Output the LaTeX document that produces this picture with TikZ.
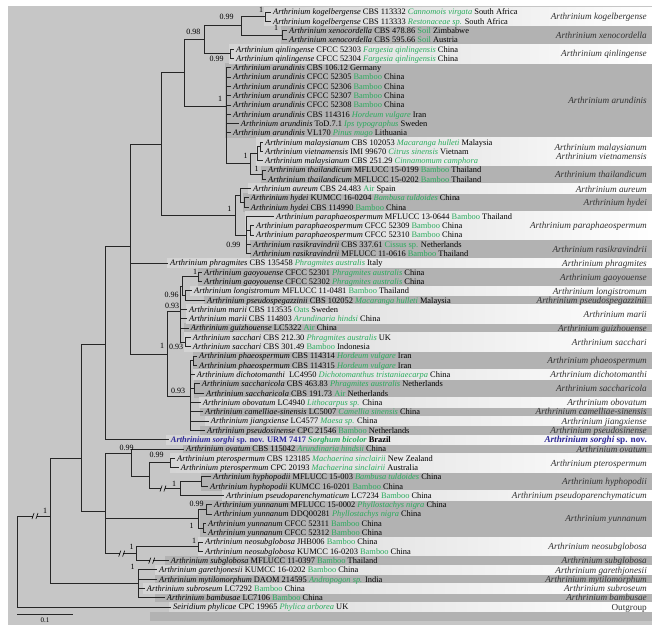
\documentclass[tikz,border=0pt]{standalone}
\usepackage{fontspec}
\setmainfont{Liberation Serif}
\definecolor{panel}{RGB}{198,198,198}
\definecolor{dband}{RGB}{178,178,178}
\definecolor{lband}{RGB}{212,212,212}
\definecolor{hostg}{RGB}{40,170,92}
\definecolor{sorg}{RGB}{45,40,150}
\definecolor{cladec}{RGB}{50,50,50}
\newcommand\spn[1]{\textit{Arthrinium #1}}
\newcommand\hostit[1]{\textcolor{hostg}{\textit{#1}}}
\newcommand\hostrm[1]{\textcolor{hostg}{#1}}
\newcommand\brk[2]{\fill[panel] (#1-1.6,#2-1.3) rectangle (#1+1.6,#2+1.3);
  \draw[line width=0.6pt] (#1-3,#2+3) -- (#1-0.9,#2-3) (#1+0.9,#2+3) -- (#1+3,#2-3);}
\begin{document}
\begin{tikzpicture}[x=1pt,y=-1pt,
 br/.style={line width=1pt, black!85},
 leaf/.style={anchor=west, xshift=-2pt, inner xsep=2pt, inner ysep=0pt, text height=5.6pt, text depth=0pt, font=\fontsize{8.4}{9}\selectfont},
 sup/.style={inner sep=0pt, text height=5.3pt, text depth=0pt, font=\fontsize{8}{9}\selectfont},
 clade/.style={anchor=east, inner sep=0pt, text height=6.2pt, text depth=0pt, font=\fontsize{9.2}{10}\selectfont, text=cladec}]
\useasboundingbox (0,0) rectangle (654,629);
\fill[white] (0,0) rectangle (654,629);
\fill[panel] (8,6) rectangle (652,625);
% dark bands
\foreach \xa/\a/\b in {281/3/4, 225/7/14, 261/18/19, 243/21/22, 250/26/27, 198/29/30, 204/32/32, 184/35/35, 193/38/39, 194/41/42, 200/44/44, 200/46/46, 183/48/48, 201/51/52, 200/54/57, 165/60/60, 155/62/62, 155/64/64, 150/66/66} {
  \pgfmathsetmacro\yt{7.35+(\a-1)*9.297}
  \pgfmathsetmacro\yb{16.65+(\b-1)*9.297}
  \fill[dband] (\xa,\yt) rectangle (652,\yb);
}
% light bands
\foreach \xa/\a/\b in {264/1/2, 229/5/6, 256/15/17, 248/20/20, 245/23/25, 167/28/28, 190/31/31, 186/33/34, 184/36/37, 193/40/40, 199/43/43, 205/45/45, 166/47/47, 170/49/50, 222/53/53, 198/58/59, 155/61/61, 143/63/63, 169/65/65} {
  \pgfmathsetmacro\yt{7.35+(\a-1)*9.297}
  \pgfmathsetmacro\yb{16.65+(\b-1)*9.297}
  \shade[left color=lband, right color=white] (\xa,\yt) rectangle (652,\yb);
}
% leaves
\node[leaf] (L1) at (273,12.0) {\spn{kogelbergense} CBS 113332 \hostit{Cannomois virgata} South Africa};
\node[leaf] (L2) at (273,21.3) {\spn{kogelbergense} CBS 113333 \hostit{Restonaceae sp.} South Africa};
\node[leaf] (L3) at (289,30.6) {\spn{xenocordella} CBS 478.86 \hostrm{Soil} Zimbabwe};
\node[leaf] (L4) at (289,39.9) {\spn{xenocordella} CBS 595.66 \hostrm{Soil} Austria};
\node[leaf] (L5) at (236,49.2) {\spn{qinlingense} CFCC 52303 \hostit{Fargesia qinlingensis} China};
\node[leaf] (L6) at (236,58.5) {\spn{qinlingense} CFCC 52304 \hostit{Fargesia qinlingensis} China};
\node[leaf] (L7) at (233,67.8) {\spn{arundinis} CBS 106.12 Germany};
\node[leaf] (L8) at (233,77.1) {\spn{arundinis} CFCC 52305 \hostrm{Bamboo} China};
\node[leaf] (L9) at (233,86.4) {\spn{arundinis} CFCC 52306 \hostrm{Bamboo} China};
\node[leaf] (L10) at (233,95.7) {\spn{arundinis} CFCC 52307 \hostrm{Bamboo} China};
\node[leaf] (L11) at (233,105.0) {\spn{arundinis} CFCC 52308 \hostrm{Bamboo} China};
\node[leaf] (L12) at (233,114.3) {\spn{arundinis} CBS 114316 \hostit{Hordeum vulgare} Iran};
\node[leaf] (L13) at (240.7,123.6) {\spn{arundinis} ToD.7.1 \hostit{Ips typographus} Sweden};
\node[leaf] (L14) at (233,132.9) {\spn{arundinis} VL170 \hostit{Pinus mugo} Lithuania};
\node[leaf] (L15) at (265,142.2) {\spn{malaysianum} CBS 102053 \hostit{Macaranga hulleti} Malaysia};
\node[leaf] (L16) at (265,151.5) {\spn{vietnamensis} IMI 99670 \hostit{Citrus sinensis} Vietnam};
\node[leaf] (L17) at (265,160.8) {\spn{malaysianum} CBS 251.29 \hostit{Cinnamomum camphora}};
\node[leaf] (L18) at (268,170.1) {\spn{thailandicum} MFLUCC 15-0199 \hostrm{Bamboo} Thailand};
\node[leaf] (L19) at (268,179.3) {\spn{thailandicum} MFLUCC 15-0202 \hostrm{Bamboo} Thailand};
\node[leaf] (L20) at (253,188.6) {\spn{aureum} CBS 24.483 \hostrm{Air} Spain};
\node[leaf] (L21) at (250.7,197.9) {\spn{hydei} KUMCC 16-0204 \hostit{Bambusa tuldoides} China};
\node[leaf] (L22) at (250.7,207.2) {\spn{hydei} CBS 114990 \hostrm{Bamboo} China};
\node[leaf] (L23) at (276,216.5) {\spn{paraphaeospermum} MFLUCC 13-0644 \hostrm{Bamboo} Thailand};
\node[leaf] (L24) at (256,225.8) {\spn{paraphaeospermum} CFCC 52309 \hostrm{Bamboo} China};
\node[leaf] (L25) at (256,235.1) {\spn{paraphaeospermum} CFCC 52310 \hostrm{Bamboo} China};
\node[leaf] (L26) at (253,244.4) {\spn{rasikravindrii} CBS 337.61 \hostrm{Cissus sp.} Netherlands};
\node[leaf] (L27) at (253,253.7) {\spn{rasikravindrii} MFLUCC 11-0616 \hostrm{Bamboo} Thailand};
\node[leaf] (L28) at (170,263.0) {\spn{phragmites} CBS 135458 \hostit{Phragmites australis} Italy};
\node[leaf] (L29) at (204,272.3) {\spn{gaoyouense} CFCC 52301 \hostit{Phragmites australis} China};
\node[leaf] (L30) at (204,281.6) {\spn{gaoyouense} CFCC 52302 \hostit{Phragmites australis} China};
\node[leaf] (L31) at (194,290.9) {\spn{longistromum} MFLUCC 11-0481 \hostrm{Bamboo} Thailand};
\node[leaf] (L32) at (207,300.2) {\spn{pseudospegazzinii} CBS 102052 \hostit{Macaranga hulleti} Malaysia};
\node[leaf] (L33) at (189,309.5) {\spn{marii} CBS 113535 \hostrm{Oats} Sweden};
\node[leaf] (L34) at (189,318.8) {\spn{marii} CBS 114803 \hostit{Arundinaria hindsi} China};
\node[leaf] (L35) at (190.7,328.1) {\spn{guizhouense} LC5322 \hostrm{Air} China};
\node[leaf] (L36) at (192.7,337.4) {\spn{sacchari} CBS 212.30 \hostit{Phragmites australis} UK};
\node[leaf] (L37) at (192.7,346.7) {\spn{sacchari} CBS 301.49 \hostrm{Bamboo} Indonesia};
\node[leaf] (L38) at (199,356.0) {\spn{phaeospermum} CBS 114314 \hostit{Hordeum vulgare} Iran};
\node[leaf] (L39) at (199,365.3) {\spn{phaeospermum} CBS 114315 \hostit{Hordeum vulgare} Iran};
\node[leaf] (L40) at (196.7,374.6) {\spn{dichotomanthi}\ \ LC4950 \hostit{Dichotomanthus tristaniaecarpa} China};
\node[leaf] (L41) at (201.7,383.9) {\spn{saccharicola} CBS 463.83 \hostit{Phragmites australis} Netherlands};
\node[leaf] (L42) at (206,393.2) {\spn{saccharicola} CBS 191.73 \hostrm{Air} Netherlands};
\node[leaf] (L43) at (202.7,402.5) {\spn{obovatum} LC4940 \hostit{Lithocarpus sp.} China};
\node[leaf] (L44) at (205,411.8) {\spn{camelliae-sinensis} LC5007 \hostit{Camellia sinensis} China};
\node[leaf] (L45) at (210.7,421.1) {\spn{jiangxiense} LC4577 \hostit{Maesa sp.} China};
\node[leaf] (L46) at (207,430.4) {\spn{pseudosinense} CPC 21546 \hostrm{Bamboo} Netherlands};
\node[leaf] (L47) at (170.7,439.7) {\textcolor{sorg}{\textbf{\textit{Arthrinium sorghi}} \textbf{sp. nov. URM 7417}} \textcolor{hostg}{\textbf{\textit{Sorghum bicolor}}} \textbf{Brazil}};
\node[leaf] (L48) at (186,449.0) {\spn{ovatum} CBS 115042 \hostit{Arundinaria hindsii} China};
\node[leaf] (L49) at (177,458.3) {\spn{pterospermum} CBS 123185 \hostit{Machaerina sinclairii} New Zealand};
\node[leaf] (L50) at (180.7,467.6) {\spn{pterospermum} CPC 20193 \hostit{Machaerina sinclairii} Australia};
\node[leaf] (L51) at (213,476.9) {\spn{hyphopodii} MFLUCC 15-003 \hostit{Bambusa tuldoides} China};
\node[leaf] (L52) at (210,486.2) {\spn{hyphopodii} KUMCC 16-0201 \hostrm{Bamboo} China};
\node[leaf] (L53) at (226,495.5) {\spn{pseudoparenchymaticum} LC7234 \hostrm{Bamboo} China};
\node[leaf] (L54) at (214,504.8) {\spn{yunnanum} MFLUCC 15-0002 \hostit{Phyllostachys nigra} China};
\node[leaf] (L55) at (214,514.1) {\spn{yunnanum} DDQ00281 \hostit{Phyllostachys nigra} China};
\node[leaf] (L56) at (208,523.4) {\spn{yunnanum} CFCC 52311 \hostrm{Bamboo} China};
\node[leaf] (L57) at (208,532.7) {\spn{yunnanum} CFCC 52312 \hostrm{Bamboo} China};
\node[leaf] (L58) at (205,542.0) {\spn{neosubglobosa} JHB006 \hostrm{Bamboo} China};
\node[leaf] (L59) at (205,551.3) {\spn{neosubglobosa} KUMCC 16-0203 \hostrm{Bamboo} China};
\node[leaf] (L60) at (170.7,560.6) {\spn{subglobosa} MFLUCC 11-0397 \hostrm{Bamboo} Thailand};
\node[leaf] (L61) at (159,569.9) {\spn{garethjonesii} KUMCC 16-0202 \hostrm{Bamboo} China};
\node[leaf] (L62) at (159,579.2) {\spn{mytilomorphum} DAOM 214595 \hostit{Andropogon sp.} India};
\node[leaf] (L63) at (146.7,588.5) {\spn{subroseum} LC7292 \hostrm{Bamboo} China};
\node[leaf] (L64) at (166.7,597.8) {\spn{bambusae} LC7106 \hostrm{Bamboo} China};
\node[leaf] (L65) at (173,607.1) {\textit{Seiridium phylicae} CPC 19965 \hostit{Phylica arborea} UK};
% internal nodes
\coordinate (R) at (17.3,561.5);
\coordinate (I) at (50.7,516);
\coordinate (G) at (81.7,458.3);
\coordinate (F) at (105,344);
\coordinate (E) at (130,246);
\coordinate (D) at (161,144);
\coordinate (C) at (184,72);
\coordinate (B) at (204,39);
\coordinate (A) at (241,25);
\coordinate (K) at (265,16.65);
\coordinate (X) at (282.7,35.25);
\coordinate (Q) at (230,53.85);
\coordinate (AR) at (226,106);
\coordinate (MT) at (250,163);
\coordinate (M1) at (257,153);
\coordinate (M2) at (260,146.85);
\coordinate (TH) at (262,174.7);
\coordinate (HC) at (235,215.4);
\coordinate (AH) at (240,195.6);
\coordinate (HY) at (244,202.55);
\coordinate (PR) at (246,235.1);
\coordinate (PC) at (250,230.45);
\coordinate (BC) at (167.3,354);
\coordinate (G93) at (180.5,311);
\coordinate (G96) at (182.5,286.3);
\coordinate (GA) at (198.5,276.95);
\coordinate (LP) at (185.5,295.55);
\coordinate (SA) at (185,342.05);
\coordinate (LOW) at (190,396);
\coordinate (PH) at (193.3,360.65);
\coordinate (SC) at (194,388.55);
\coordinate (H) at (105,511.7);
\coordinate (OV) at (131.7,453.3);
\coordinate (PH2) at (149.3,476);
\coordinate (PT) at (170.7,462.95);
\coordinate (HP) at (180,488.5);
\coordinate (HH) at (201.7,481.55);
\coordinate (Y) at (198.3,518.7);
\coordinate (Y1) at (206,509.45);
\coordinate (Y2) at (203,528.05);
\coordinate (N) at (136.7,553.6);
\coordinate (NS) at (198.3,546.65);
\coordinate (GJ) at (138.3,583.85);
% branches
\foreach \p/\c in {R/I, R/L65, I/G, I/GJ, G/F, G/H, F/E, F/L47, E/D, E/L28, E/BC,
  D/C, D/HC, C/B, C/AR, B/A, B/Q, A/K, A/X, K/L1, K/L2, X/L3, X/L4, Q/L5, Q/L6,
  AR/L7, AR/L8, AR/L9, AR/L10, AR/L11, AR/L12, AR/L13, AR/L14, AR/MT,
  MT/M1, MT/TH, M1/M2, M1/L17, M2/L15, M2/L16, TH/L18, TH/L19,
  HC/AH, HC/PR, AH/L20, AH/HY, HY/L21, HY/L22, PR/L23, PR/PC, PR/L26, PR/L27, PC/L24, PC/L25,
  BC/G93, BC/LOW, G93/G96, G93/L33, G93/L34, G93/L35, G93/SA, G96/GA, G96/LP,
  GA/L29, GA/L30, LP/L31, LP/L32, SA/L36, SA/L37,
  LOW/PH, LOW/L40, LOW/SC, LOW/L43, LOW/L44, LOW/L45, LOW/L46, PH/L38, PH/L39, SC/L41, SC/L42,
  H/OV, H/Y, H/N, OV/L48, OV/PH2, PH2/PT, PH2/HP, PT/L49, PT/L50, HP/HH, HP/L53, HH/L51, HH/L52,
  Y/Y1, Y/Y2, Y1/L54, Y1/L55, Y2/L56, Y2/L57, N/NS, N/L60, NS/L58, NS/L59,
  GJ/L61, GJ/L62, GJ/L63, GJ/L64}
  \draw[br] (\p) |- (\c);
% breaks
\brk{35}{516}
\brk{121.7}{553.6}
\brk{151.7}{560.6}
\brk{163}{488.5}
% support values
\node[sup] (s1) at (226.7,16.7) {0.99};
\node[sup] (s2) at (261,10) {1};
\node[sup] (s3) at (276,28.3) {1};
\node[sup] (s4) at (193.3,32.3) {0.98};
\node[sup] (s5) at (216.7,59.3) {0.99};
\node[sup] (s6) at (220,99) {1};
\node[sup] (s7) at (245.7,156) {1};
\node[sup] (s8) at (256.7,169) {1};
\node[sup] (s9) at (229.3,209) {1};
\node[sup] (s10) at (233.3,245) {0.99};
\node[sup] (s11) at (195,271.5) {1};
\node[sup] (s12) at (171.7,294.5) {0.96};
\node[sup] (s13) at (172,306) {0.93};
\node[sup] (s14) at (162,346) {1};
\node[sup] (s15) at (176,347) {0.93};
\node[sup] (s16) at (178,391) {0.93};
\node[sup] (s17) at (126.7,447.5) {0.99};
\node[sup] (s18) at (156.7,455) {0.99};
\node[sup] (s19) at (174,484) {1};
\node[sup] (s20) at (196.7,504) {0.99};
\node[sup] (s21) at (191.7,525.5) {1};
\node[sup] (s22) at (194,541) {1};
\node[sup] (s23) at (131.7,547) {1};
\node[sup] (s24) at (45,511) {1};
\node[sup] (s25) at (132.7,567.3) {1};
% clade names
\node[clade] (c1) at (647,16.65) {\textit{Arthrinium kogelbergense}};
\node[clade] (c2) at (647,35.25) {\textit{Arthrinium xenocordella}};
\node[clade] (c3) at (647,53.85) {\textit{Arthrinium qinlingense}};
\node[clade] (c4) at (647,100.35) {\textit{Arthrinium arundinis}};
\node[clade] (c5) at (647,147.2) {\textit{Arthrinium malaysianum}};
\node[clade] (c6) at (647,156.0) {\textit{Arthrinium vietnamensis}};
\node[clade] (c7) at (647,174.7) {\textit{Arthrinium thailandicum}};
\node[clade] (c8) at (647,189.5) {\textit{Arthrinium aureum}};
\node[clade] (c9) at (647,202.55) {\textit{Arthrinium hydei}};
\node[clade] (c10) at (647,225.8) {\textit{Arthrinium paraphaeospermum}};
\node[clade] (c11) at (647,249.05) {\textit{Arthrinium rasikravindrii}};
\node[clade] (c12) at (647,263.0) {\textit{Arthrinium phragmites}};
\node[clade] (c13) at (647,276.95) {\textit{Arthrinium gaoyouense}};
\node[clade] (c14) at (647,290.9) {\textit{Arthrinium longistromum}};
\node[clade] (c15) at (647,300.2) {\textit{Arthrinium pseudospegazzinii}};
\node[clade] (c16) at (647,314.15) {\textit{Arthrinium marii}};
\node[clade] (c17) at (647,328.1) {\textit{Arthrinium guizhouense}};
\node[clade] (c18) at (647,342.05) {\textit{Arthrinium sacchari}};
\node[clade] (c19) at (647,360.65) {\textit{Arthrinium phaeospermum}};
\node[clade] (c20) at (647,374.6) {\textit{Arthrinium dichotomanthi}};
\node[clade] (c21) at (647,388.55) {\textit{Arthrinium saccharicola}};
\node[clade] (c22) at (647,402.5) {\textit{Arthrinium obovatum}};
\node[clade] (c23) at (647,411.8) {\textit{Arthrinium camelliae-sinensis}};
\node[clade] (c24) at (647,421.1) {\textit{Arthrinium jiangxiense}};
\node[clade] (c25) at (647,430.4) {\textit{Arthrinium pseudosinense}};
\node[clade] (c26) at (647,439.7) {\textcolor{sorg}{\textbf{\textit{Arthrinium sorghi} sp. nov.}}};
\node[clade] (c27) at (647,449.0) {\textit{Arthrinium ovatum}};
\node[clade] (c28) at (647,462.95) {\textit{Arthrinium pterospermum}};
\node[clade] (c29) at (647,481.55) {\textit{Arthrinium hyphopodii}};
\node[clade] (c30) at (647,495.5) {\textit{Arthrinium pseudoparenchymaticum}};
\node[clade] (c31) at (647,518.75) {\textit{Arthrinium yunnanum}};
\node[clade] (c32) at (647,546.65) {\textit{Arthrinium neosubglobosa}};
\node[clade] (c33) at (647,560.6) {\textit{Arthrinium subglobosa}};
\node[clade] (c34) at (647,569.9) {\textit{Arthrinium garethjonesii}};
\node[clade] (c35) at (647,579.2) {\textit{Arthrinium mytilomorphum}};
\node[clade] (c36) at (647,588.5) {\textit{Arthrinium subroseum}};
\node[clade] (c37) at (647,597.8) {\textit{Arthrinium bambusae}};
\node[clade] (c38) at (647,607.1) {Outgroup};
% scale bar
\coordinate (sb1) at (17.3,614.3);
\coordinate (sb2) at (72.7,614.3);
\draw[br] (sb1) -- (sb2);
\node[inner sep=0pt, font=\fontsize{7}{8}\selectfont] (sbl) at (45,620.5) {0.1};
\end{tikzpicture}
\end{document}
